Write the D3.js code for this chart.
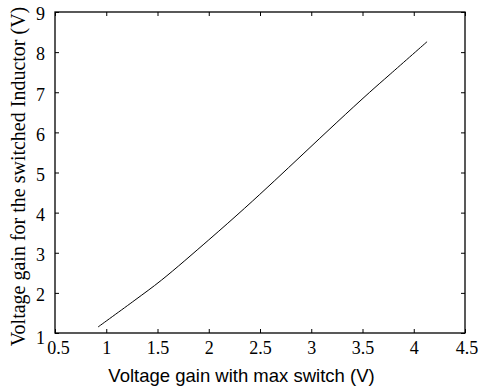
<!DOCTYPE html>
<html>
<head>
<meta charset="utf-8">
<script src="https://cdn.jsdelivr.net/npm/d3@7"></script>
<style>
  html, body { margin: 0; padding: 0; background: #fff; }
  svg { display: block; }
</style>
</head>
<body>
<svg id="chart" width="479" height="389"></svg>
<script>
// Switch voltage gain vs. switched-inductor voltage gain
const gainSwitch   = [0.92, 1.28, 1.54, 2.00, 2.35, 2.64, 2.92, 3.25, 3.57, 3.77, 4.13];
const gainInductor = [1.15, 1.82, 2.32, 3.32, 4.11, 4.79, 5.46, 6.25, 7.00, 7.45, 8.26];
const xTicks = [0.5, 1, 1.5, 2, 2.5, 3, 3.5, 4, 4.5];
const yTicks = [1, 2, 3, 4, 5, 6, 7, 8, 9];
const xTitle = "Voltage gain with max switch (V)";
const yTitle = "Voltage gain for the switched Inductor (V)";

const svg = d3.select("#chart");
const margin = { top: 12, right: 14, bottom: 56, left: 55 };
const W = 479, H = 389;
const iw = W - margin.left - margin.right;
const ih = H - margin.top - margin.bottom;

const x = d3.scaleLinear().domain([0.5, 4.5]).range([0, iw]);
const y = d3.scaleLinear().domain([1, 9]).range([ih, 0]);

const g = svg.append("g").attr("transform", `translate(${margin.left},${margin.top})`);
const serif = "'Liberation Serif', serif";
const sans = "'Liberation Sans', sans-serif";
const tickLen = 4;

// inward ticks on all four sides
const axBottom = g.append("g").attr("transform", `translate(0,${ih})`)
  .call(d3.axisBottom(x).tickValues(xTicks).tickSizeInner(-tickLen).tickSizeOuter(0).tickPadding(8).tickFormat(d3.format("")));
const axTop = g.append("g")
  .call(d3.axisTop(x).tickValues(xTicks).tickSizeInner(-tickLen).tickSizeOuter(0).tickFormat(""));
const axLeft = g.append("g")
  .call(d3.axisLeft(y).tickValues(yTicks).tickSizeInner(-tickLen).tickSizeOuter(0).tickPadding(10).tickFormat(d3.format("")));
const axRight = g.append("g").attr("transform", `translate(${iw},0)`)
  .call(d3.axisRight(y).tickValues(yTicks).tickSizeInner(-tickLen).tickSizeOuter(0).tickFormat(""));

[axBottom, axTop, axLeft, axRight].forEach(a => {
  a.attr("font-family", serif).attr("font-size", 18);
  a.select(".domain").remove();
  a.selectAll(".tick line").attr("stroke", "#000").attr("stroke-width", 1);
  a.selectAll("text").attr("fill", "#000").attr("font-family", serif);
});
axBottom.selectAll(".tick text").attr("dx", d => d === 0.5 ? 3 : (d === 4.5 ? 1.5 : 0));
axLeft.selectAll(".tick text").attr("dy", d => d === 1 ? "0.6em" : "0.43em");

// frame
g.append("rect").attr("x", 0).attr("y", 0).attr("width", iw).attr("height", ih)
  .attr("fill", "none").attr("stroke", "#000").attr("stroke-width", 1.3);

// curve
const pts = gainSwitch.map((v, i) => [v, gainInductor[i]]);
g.append("path").datum(pts)
  .attr("fill", "none").attr("stroke", "#000").attr("stroke-width", 1)
  .attr("d", d3.line().x(d => x(d[0])).y(d => y(d[1])).curve(d3.curveCatmullRom.alpha(0.5)));

// axis titles
svg.append("text").attr("x", 241.5).attr("y", 382)
  .attr("text-anchor", "middle").attr("font-family", sans).attr("font-size", 18.5)
  .text(xTitle);
svg.append("text").attr("transform", "translate(25,176.5) rotate(-90)")
  .attr("text-anchor", "middle").attr("font-family", serif).attr("font-size", 20)
  .text(yTitle);
</script>
</body>
</html>
